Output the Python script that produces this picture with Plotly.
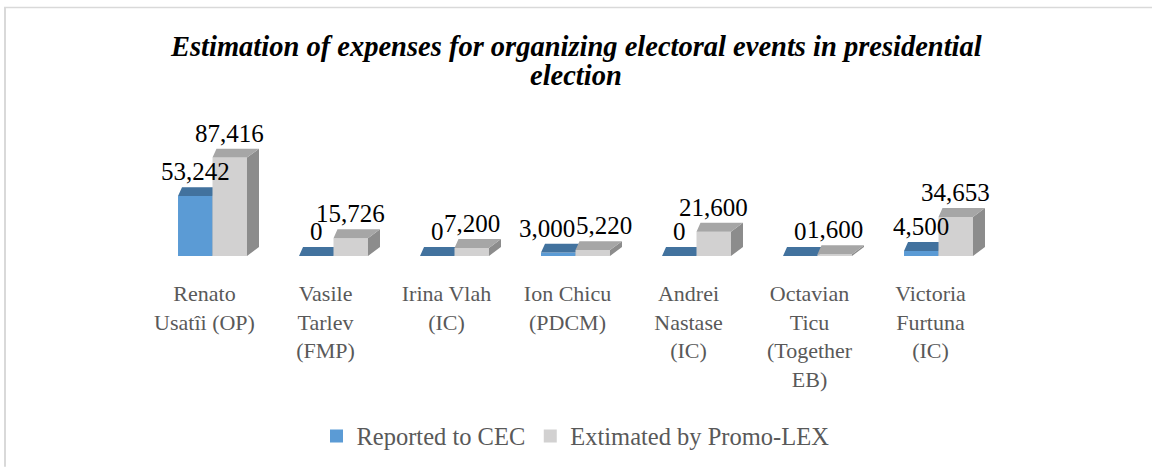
import plotly.graph_objects as go

# ---------------- data ----------------
categories = ["Renato<br>Usatîi (OP)", "Vasile<br>Tarlev<br>(FMP)", "Irina Vlah<br>(IC)",
              "Ion Chicu<br>(PDCM)", "Andrei<br>Nastase<br>(IC)",
              "Octavian<br>Ticu<br>(Together<br>EB)", "Victoria<br>Furtuna<br>(IC)"]
reported = [53242, 0, 0, 3000, 0, 0, 4500]
estimated = [87416, 15726, 7200, 5220, 21600, 1600, 34653]
series_names = ["Reported to CEC", "Extimated by Promo-LEX"]
title_lines = ["Estimation of expenses for organizing electoral events in presidential", "election"]

# ---------------- layout geometry ----------------
W, H = 1152, 469
L, R, T, B = 152, 153, 100, 212
plot_w = W - L - R
plot_h = H - T - B
n = len(categories)
x_per_px = n / plot_w
YMAX = 138600
y_per_px = YMAX / plot_h

bar_w = 0.285
dxL = 4 * x_per_px
dxR = 12 * x_per_px
dy = 9 * y_per_px

FONT = "Liberation Serif"
LABEL_SIZE = 25
series = [
    dict(name=series_names[0], vals=reported, off=-bar_w,
         front="#5B9BD5", top="#42729E", side="#3A6690"),
    dict(name=series_names[1], vals=estimated, off=0.0,
         front="#D2D1D1", top="#A6A6A6", side="#8C8C8C"),
]

fig = go.Figure()


def poly_trace(pts_list, color):
    xs, ys = [], []
    for pts in pts_list:
        for (px, py) in pts:
            xs.append(px)
            ys.append(py)
        xs.append(pts[0][0]); ys.append(pts[0][1])
        xs.append(None); ys.append(None)
    return go.Scatter(x=xs, y=ys, mode="lines", fill="toself", fillcolor=color,
                      line=dict(width=0, color=color), hoverinfo="skip",
                      showlegend=False, connectgaps=False)


def text_w_px(s):
    # rough width of a number label (digits 0.5em, comma 0.25em)
    return sum(0.25 if c == "," else 0.5 for c in s) * LABEL_SIZE


# data-label positions (simple collision avoidance between the two labels of a group)
label_info = []
for i in range(n):
    items = []
    for s in series:
        v = s["vals"][i]
        x0 = i + s["off"]
        items.append([x0 + bar_w / 2, v + dy, f"{v:,}"])
    a, b = items
    vgap_px = abs(b[1] - a[1]) / y_per_px
    if vgap_px < 0.7 * LABEL_SIZE:
        right_a = a[0] / x_per_px + text_w_px(a[2]) / 2
        left_b = b[0] / x_per_px - text_w_px(b[2]) / 2
        overlap = right_a - left_b
        if overlap > 0:
            a[0] -= overlap / 2 * x_per_px
            b[0] += overlap / 2 * x_per_px
    label_info.append(items)

annotations = []
for si, s in enumerate(series):
    fronts, tops, sides = [], [], []
    for i, v in enumerate(s["vals"]):
        x0 = i + s["off"]
        x1 = x0 + bar_w
        fronts.append([(x0, 0), (x1, 0), (x1, v), (x0, v)])
        tops.append([(x0, v), (x1, v), (x1 + dxR, v + dy), (x0 + dxL, v + dy)])
        sides.append([(x1, 0), (x1 + dxR, dy), (x1 + dxR, v + dy), (x1, v)])
        lx, ly, lt = label_info[i][si]
        annotations.append(dict(x=lx, y=ly, xref="x", yref="y",
                                text=lt, showarrow=False, yanchor="bottom",
                                yshift=0, font=dict(family=FONT, size=LABEL_SIZE, color="#000000")))
    fig.add_trace(poly_trace(fronts, s["front"]))
    fig.add_trace(poly_trace(sides, s["side"]))
    fig.add_trace(poly_trace(tops, s["top"]))

# legend entries
for s in series:
    fig.add_trace(go.Scatter(x=[None], y=[None], mode="markers", name=s["name"],
                             marker=dict(symbol="square", size=13, color=s["front"])))


def px_x(p):
    return (p - L) / plot_w


def px_y(p):
    return (H - B - p) / plot_h


# title (two lines, tight line spacing as in the reference)
for line, ypx in zip(title_lines, [46, 75]):
    annotations.append(dict(x=0.5, xref="paper", y=px_y(ypx), yref="paper",
                            text=line, showarrow=False, xanchor="center", yanchor="middle",
                            font=dict(family=FONT, size=28.5, color="#000000",
                                      weight="bold", style="italic")))

# chart border (top & left)
shapes = [
    dict(type="line", xref="paper", yref="paper", x0=px_x(4), x1=px_x(W), y0=px_y(7), y1=px_y(7),
         line=dict(color="#D9D9D9", width=1.5)),
    dict(type="line", xref="paper", yref="paper", x0=px_x(5), x1=px_x(5), y0=px_y(7), y1=px_y(H),
         line=dict(color="#D9D9D9", width=2)),
]

fig.update_layout(
    width=W, height=H,
    margin=dict(l=L, r=R, t=T, b=B),
    paper_bgcolor="white", plot_bgcolor="white",
    xaxis=dict(range=[-0.5, n - 0.5], tickvals=[i - 8 * x_per_px for i in range(n)],
               ticktext=categories, showgrid=False, zeroline=False, showline=False,
               ticks="", ticklabelstandoff=22,
               tickfont=dict(family=FONT, size=22, color="#595959"), fixedrange=True),
    yaxis=dict(range=[0, YMAX], showgrid=False, zeroline=False, showline=False,
               showticklabels=False, ticks="", fixedrange=True),
    showlegend=True,
    legend=dict(orientation="h", x=0.5, xanchor="center", y=px_y(436), yanchor="middle",
                font=dict(family=FONT, size=24.5, color="#595959"), bgcolor="rgba(0,0,0,0)"),
    annotations=annotations,
    shapes=shapes,
)

fig.write_html("out.html", config={"displayModeBar": False},
               post_script="document.body.style.margin='0px';")
